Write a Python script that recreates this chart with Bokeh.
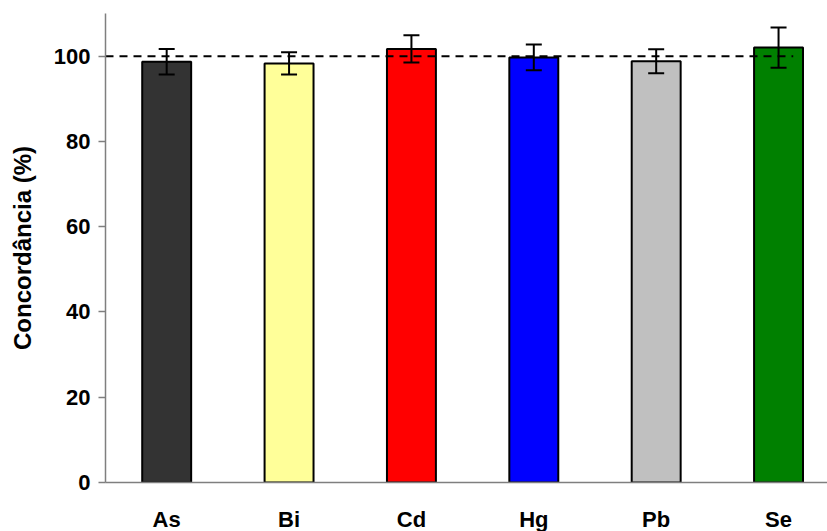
from bokeh.plotting import figure
from bokeh.models import ColumnDataSource, Range1d, FixedTicker, Whisker, TeeHead
from bokeh.embed import file_html
from bokeh.resources import INLINE

# Recovery (concordância) per element, with standard deviations
elements = ["As", "Bi", "Cd", "Hg", "Pb", "Se"]
concordance = [98.7, 98.3, 101.7, 99.7, 98.8, 102.0]
std_dev = [3.0, 2.6, 3.2, 3.0, 2.8, 4.7]
bar_colors = ["#333333", "#FFFF99", "#FF0000", "#0000FF", "#C0C0C0", "#008000"]
y_ticks = [0, 20, 40, 60, 80, 100]
reference_level = 100
reference_extent = [-0.5, 5.12]

positions = list(range(len(elements)))
source = ColumnDataSource(data=dict(
    x=positions,
    top=concordance,
    upper=[v + e for v, e in zip(concordance, std_dev)],
    lower=[v - e for v, e in zip(concordance, std_dev)],
    color=bar_colors,
))

FONT = "Liberation Sans"

p = figure(frame_width=722, frame_height=469, output_backend="svg",
           toolbar_location=None,
           x_range=Range1d(-0.5, 5.4), y_range=Range1d(0, 110),
           min_border_left=105, min_border_right=0, min_border_top=13,
           min_border_bottom=40)
p.outline_line_color = None
p.xgrid.visible = False
p.ygrid.visible = False
p.background_fill_color = "white"
p.border_fill_color = "white"

p.vbar(x="x", top="top", width=0.4, bottom=0, source=source,
       fill_color="color", line_color="black", line_width=2)

# 100 % reference line
p.line(x=reference_extent, y=[reference_level, reference_level],
       line_color="black", line_width=2, line_dash="8 6")

whisker = Whisker(base="x", upper="upper", lower="lower", source=source,
                  dimension="height", line_color="black", line_width=2,
                  level="overlay",
                  upper_head=TeeHead(size=16, line_color="black", line_width=2),
                  lower_head=TeeHead(size=16, line_color="black", line_width=2))
p.add_layout(whisker)

# y axis
p.yaxis.ticker = FixedTicker(ticks=y_ticks)
p.yaxis.axis_label = "Concordância (%)"
p.yaxis.axis_label_text_font = FONT
p.yaxis.axis_label_text_font_style = "bold"
p.yaxis.axis_label_text_font_size = "24px"
p.yaxis.axis_label_text_color = "black"
p.yaxis.axis_label_standoff = 15
p.yaxis.major_label_text_font = FONT
p.yaxis.major_label_text_font_style = "bold"
p.yaxis.major_label_text_font_size = "22px"
p.yaxis.major_label_text_color = "black"
p.yaxis.major_label_standoff = 8
p.yaxis.major_tick_out = 7
p.yaxis.major_tick_in = 0
p.yaxis.minor_tick_out = 0
p.yaxis.minor_tick_in = 0
p.yaxis.axis_line_color = "#7f7f7f"
p.yaxis.axis_line_width = 1.5
p.yaxis.major_tick_line_color = "#7f7f7f"
p.yaxis.major_tick_line_width = 1.5

# x axis
p.xaxis.ticker = FixedTicker(ticks=positions)
p.xaxis.major_label_overrides = {i: name for i, name in enumerate(elements)}
p.xaxis.major_label_text_font = FONT
p.xaxis.major_label_text_font_style = "bold"
p.xaxis.major_label_text_font_size = "22px"
p.xaxis.major_label_text_color = "black"
p.xaxis.major_label_standoff = 24
p.xaxis.major_tick_out = 0
p.xaxis.major_tick_in = 0
p.xaxis.minor_tick_out = 0
p.xaxis.minor_tick_in = 0
p.xaxis.axis_line_color = "#7f7f7f"
p.xaxis.axis_line_width = 1.5

open("out.html", "w").write(file_html(p, INLINE))
